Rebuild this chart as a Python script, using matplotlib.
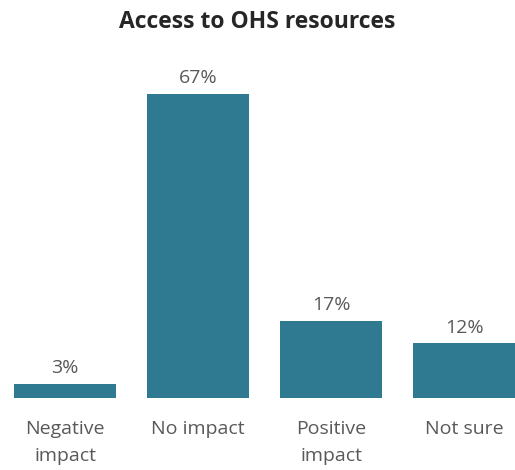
import matplotlib
matplotlib.use("Agg")
import matplotlib.pyplot as plt

categories = ["Negative\nimpact", "No impact", "Positive\nimpact", "Not sure"]
values = [3, 67, 17, 12]
value_labels = ["3%", "67%", "17%", "12%"]

bar_color = "#2F7A91"
text_gray = "#595959"
title_color = "#262626"

plt.rcParams["font.family"] = ["Open Sans", "DejaVu Sans"]

fig = plt.figure(figsize=(5.15, 4.7), dpi=100)
ax = fig.add_axes([0.0, 0.1532, 1.0, 0.7191])

x = list(range(len(categories)))
bars = ax.bar(x, values, width=0.77, color=bar_color)

ax.set_xlim(-65 / 133, 450 / 133)
ax.set_ylim(0, 74.4)

for xi, v, lab in zip(x, values, value_labels):
    ax.annotate(lab, (xi, v), xytext=(0, 5), textcoords="offset points",
                ha="center", va="bottom", fontsize=14, color=text_gray)

ax.set_xticks(x)
ax.set_xticklabels(categories, fontsize=14, color=text_gray, linespacing=1.65)
ax.tick_params(axis="x", length=0, pad=16)
ax.set_yticks([])
for s in ax.spines.values():
    s.set_visible(False)

fig.text(0.5, 0.953, "Access to OHS resources", ha="center", va="center",
         fontsize=16.5, fontweight="bold", color=title_color)

fig.savefig("out.png", dpi=100)
